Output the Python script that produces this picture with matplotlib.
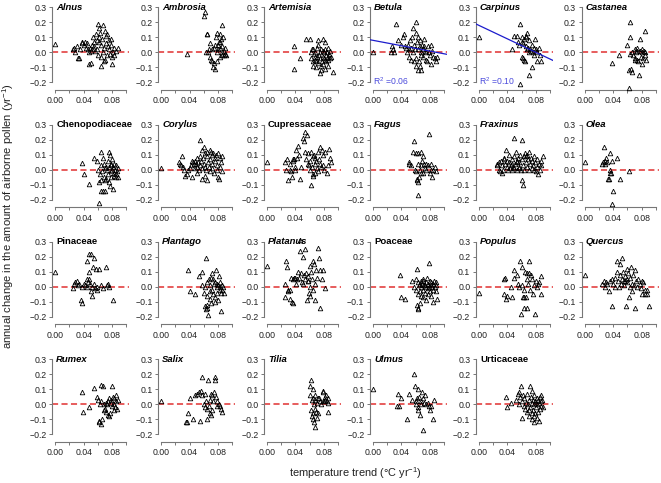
import matplotlib
matplotlib.use('Agg')
import matplotlib.pyplot as plt

plt.rcParams['font.family'] = ['Liberation Sans', 'DejaVu Sans']
plt.rcParams['mathtext.fontset'] = 'custom'
plt.rcParams['mathtext.rm'] = 'Liberation Sans'
plt.rcParams['mathtext.it'] = 'Liberation Sans:italic'
plt.rcParams['mathtext.bf'] = 'Liberation Sans:bold'

# ---------------- data: (temperature trend, annual change) ----------------
alnus = [(0.000,0.055),(0.025,0.02),(0.027,0.03),(0.028,0.0),(0.030,0.04),(0.032,-0.035),(0.033,-0.04),(0.035,0.02),
         (0.037,0.06),(0.038,0.07),(0.040,0.05),(0.042,0.07),(0.043,0.03),(0.045,0.06),(0.046,0.02),(0.047,0.0),
         (0.048,-0.08),(0.049,0.03),(0.050,-0.07),(0.050,0.01),(0.051,0.02),(0.052,0.05),(0.053,0.10),(0.054,0.07),
         (0.055,0.04),(0.056,0.01),(0.057,0.12),(0.058,0.08),(0.059,0.02),(0.060,0.19),(0.060,-0.02),(0.061,0.10),
         (0.062,0.07),(0.062,0.16),(0.063,0.13),(0.064,-0.03),(0.064,0.05),(0.065,-0.09),(0.066,0.09),(0.067,0.18),
         (0.067,0.0),(0.068,-0.06),(0.069,0.03),(0.070,0.14),(0.070,-0.05),(0.071,0.11),(0.072,0.06),(0.073,0.12),
         (0.073,-0.02),(0.074,0.04),(0.075,0.08),(0.076,0.02),(0.077,-0.01),(0.078,0.05),(0.079,0.09),(0.080,-0.08),
         (0.080,-0.03),(0.081,0.0),(0.082,-0.02),(0.083,0.03),(0.085,0.01),(0.088,0.03)]
ambrosia = [(0.037,-0.01),(0.060,0.24),(0.062,0.27),(0.063,0.0),(0.064,0.12),(0.065,0.12),(0.066,0.0),(0.067,0.02),
            (0.068,-0.03),(0.069,0.06),(0.070,-0.05),(0.071,0.02),(0.072,-0.06),(0.073,-0.1),(0.074,0.03),(0.075,0.05),
            (0.076,-0.11),(0.077,0.1),(0.078,0.0),(0.079,0.13),(0.080,0.05),(0.080,0.02),(0.081,0.07),(0.082,0.03),
            (0.082,0.12),(0.083,-0.03),(0.084,0.09),(0.085,0.0),(0.085,0.18),(0.086,0.04),(0.086,-0.02),(0.087,0.1),
            (0.088,0.01),(0.088,-0.02),(0.089,0.03),(0.090,-0.01),(0.091,-0.02),(0.078,-0.06),(0.074,-0.07),(0.083,0.07)]
artemisia = [(0.038,0.045),(0.038,-0.11),(0.047,-0.04),(0.055,0.09),(0.060,0.09),(0.062,0.0),(0.063,0.02),(0.064,-0.06),
             (0.065,-0.09),(0.066,-0.01),(0.067,0.0),(0.068,-0.05),(0.069,-0.1),(0.070,0.03),(0.070,-0.03),(0.071,0.08),
             (0.072,-0.07),(0.073,-0.02),(0.074,0.0),(0.074,-0.14),(0.075,-0.04),(0.076,-0.12),(0.076,0.02),(0.077,-0.06),
             (0.078,0.01),(0.078,-0.03),(0.079,0.09),(0.079,-0.08),(0.080,-0.04),(0.080,0.0),(0.081,0.02),(0.081,-0.11),
             (0.082,-0.05),(0.082,0.07),(0.083,-0.02),(0.083,-0.06),(0.084,0.0),(0.085,-0.03),(0.085,-0.09),(0.086,0.03),
             (0.086,-0.05),(0.087,-0.01),(0.088,-0.04),(0.089,0.01),(0.090,-0.03),(0.092,-0.13),(0.064,0.02),(0.067,-0.03),
             (0.072,0.05),(0.076,-0.09),(0.069,-0.06),(0.062,-0.04)]
betula = [(0.000,0.0),(0.025,0.0),(0.027,0.045),(0.028,0.02),(0.030,0.0),(0.032,0.19),(0.035,0.08),(0.040,0.05),
          (0.042,0.10),(0.044,0.12),(0.045,0.04),(0.046,0.03),(0.048,0.0),(0.049,0.05),(0.050,0.02),(0.050,-0.03),
          (0.052,0.08),(0.053,0.03),(0.054,-0.05),(0.055,0.10),(0.056,0.0),(0.057,0.16),(0.058,0.05),(0.059,0.02),
          (0.060,-0.09),(0.060,0.2),(0.061,0.13),(0.061,-0.04),(0.062,0.07),(0.063,-0.12),(0.064,0.1),(0.064,0.02),
          (0.065,-0.06),(0.066,0.08),(0.066,0.04),(0.067,-0.12),(0.068,0.0),(0.068,-0.02),(0.069,0.05),(0.070,0.02),
          (0.071,-0.03),(0.072,0.04),(0.073,0.01),(0.074,-0.05),(0.075,0.0),(0.076,-0.06),(0.078,0.04),(0.079,0.0),
          (0.080,-0.02),(0.081,-0.08),(0.082,0.05),(0.083,0.01),(0.085,-0.03),(0.087,-0.04),(0.088,-0.06),(0.090,-0.03),
          (0.066,-0.09),(0.058,-0.06),(0.072,0.09)]
carpinus = [(0.000,0.10),(0.047,0.02),(0.050,0.11),(0.053,0.11),(0.055,0.07),(0.057,0.05),(0.058,0.19),(0.058,-0.21),
            (0.060,0.10),(0.061,-0.03),(0.062,0.06),(0.062,-0.04),(0.063,0.09),(0.064,-0.05),(0.065,-0.06),(0.066,0.11),
            (0.066,0.04),(0.067,0.02),(0.068,0.13),(0.069,0.03),(0.070,0.0),(0.070,-0.15),(0.071,0.08),(0.072,0.02),
            (0.073,0.01),(0.074,-0.1),(0.075,0.05),(0.076,0.0),(0.077,0.03),(0.078,-0.02),(0.079,0.09),(0.080,0.02),
            (0.081,-0.06),(0.082,0.0),(0.084,0.03),(0.086,-0.02),(0.087,-0.06),(0.066,0.1),(0.060,0.07)]
castanea = [(0.038,-0.07),(0.048,-0.02),(0.060,0.05),(0.062,-0.12),(0.063,0.1),(0.064,0.2),(0.064,-0.01),(0.065,-0.11),
            (0.066,-0.13),(0.067,0.0),(0.068,-0.02),(0.070,0.02),(0.071,-0.04),(0.072,0.0),(0.073,-0.05),(0.074,0.03),
            (0.075,-0.06),(0.076,-0.15),(0.077,0.01),(0.078,0.09),(0.079,-0.03),(0.080,0.02),(0.080,-0.08),(0.081,0.0),
            (0.082,-0.04),(0.083,0.01),(0.084,-0.02),(0.085,0.14),(0.085,0.0),(0.086,-0.05),(0.062,-0.24),(0.070,-0.05),
            (0.073,0.01)]
chenopodiaceae = [(0.038,0.045),(0.040,-0.03),(0.048,-0.095),(0.055,0.08),(0.058,0.06),(0.060,0.0),(0.061,-0.08),
                  (0.062,-0.22),(0.063,-0.03),(0.064,0.12),(0.064,-0.14),(0.065,0.03),(0.066,-0.01),(0.067,0.08),
                  (0.067,-0.14),(0.068,-0.05),(0.069,0.04),(0.070,-0.14),(0.070,-0.07),(0.071,0.02),(0.072,-0.06),
                  (0.073,0.0),(0.074,0.06),(0.074,-0.03),(0.075,-0.08),(0.076,0.12),(0.076,0.02),(0.077,0.1),
                  (0.077,-0.11),(0.078,0.04),(0.078,-0.01),(0.079,0.03),(0.079,-0.05),(0.080,0.0),(0.080,0.07),
                  (0.081,-0.13),(0.081,0.02),(0.082,-0.04),(0.083,0.04),(0.083,-0.02),(0.084,0.0),(0.085,-0.05),
                  (0.086,0.03),(0.086,-0.03),(0.087,-0.01),(0.088,-0.05),(0.088,0.01),(0.070,0.01),(0.065,-0.07)]
corylus = [(0.000,0.01),(0.025,0.05),(0.027,0.04),(0.028,0.03),(0.030,0.09),(0.031,0.02),(0.032,0.0),(0.034,-0.04),
           (0.036,-0.03),(0.038,0.0),(0.040,0.01),(0.042,0.03),(0.043,-0.05),(0.044,0.06),(0.045,0.05),(0.046,0.04),
           (0.047,0.01),(0.048,0.06),(0.049,0.04),(0.050,0.02),(0.050,-0.02),(0.051,0.08),(0.052,0.05),(0.053,0.0),
           (0.054,0.09),(0.055,0.2),(0.055,0.03),(0.056,0.06),(0.057,0.01),(0.057,-0.06),(0.058,0.13),(0.059,0.08),
           (0.060,0.04),(0.060,0.15),(0.061,0.02),(0.062,0.11),(0.062,-0.04),(0.063,0.0),(0.064,0.09),(0.064,-0.07),
           (0.065,0.12),(0.066,0.05),(0.067,0.02),(0.068,0.13),(0.068,0.07),(0.069,-0.01),(0.070,0.12),(0.071,0.1),
           (0.072,0.04),(0.072,0.01),(0.073,0.11),(0.074,-0.02),(0.075,0.08),(0.076,0.06),(0.077,0.1),(0.078,0.03),
           (0.079,0.0),(0.080,0.11),(0.080,-0.05),(0.081,-0.06),(0.082,0.08),(0.083,0.02),(0.084,0.05),(0.085,-0.01),
           (0.086,0.09)]
cupressaceae = [(0.000,0.05),(0.025,0.05),(0.027,0.0),(0.028,0.07),(0.030,-0.07),(0.032,0.04),(0.033,0.0),(0.034,-0.01),
                (0.035,-0.05),(0.036,0.06),(0.037,0.07),(0.038,0.07),(0.039,0.02),(0.040,0.0),(0.041,0.13),(0.042,0.08),
                (0.043,0.16),(0.045,0.1),(0.047,-0.06),(0.048,0.02),(0.050,0.21),(0.052,0.19),(0.053,0.12),(0.054,0.25),
                (0.055,0.07),(0.056,0.23),(0.057,0.04),(0.058,0.11),(0.059,0.03),(0.060,0.0),(0.061,0.06),(0.062,-0.1),
                (0.062,0.12),(0.063,0.02),(0.064,0.09),(0.065,-0.03),(0.066,0.1),(0.067,0.04),(0.068,0.08),(0.068,-0.02),
                (0.069,0.06),(0.070,0.01),(0.071,0.12),(0.072,-0.01),(0.073,0.07),(0.074,0.04),(0.075,0.15),(0.076,0.02),
                (0.077,0.13),(0.078,0.1),(0.079,0.03),(0.080,0.0),(0.082,0.12),(0.084,-0.02),(0.086,0.03),(0.088,0.08),
                (0.090,0.05),(0.087,0.14),(0.064,-0.04)]
fagus = [(0.050,0.04),(0.051,0.05),(0.053,0.03),(0.056,0.12),(0.058,0.19),(0.059,0.0),(0.060,-0.01),(0.061,0.11),
         (0.062,-0.07),(0.062,-0.06),(0.063,0.04),(0.063,-0.17),(0.064,-0.08),(0.064,0.11),(0.065,-0.05),(0.066,0.0),
         (0.067,0.12),(0.068,0.03),(0.069,0.06),(0.070,-0.02),(0.071,0.09),(0.072,0.04),(0.073,0.01),(0.074,0.0),
         (0.075,0.04),(0.077,0.03),(0.079,0.24),(0.080,-0.02),(0.081,0.04),(0.082,0.0),(0.083,-0.05),(0.085,0.0),
         (0.087,0.02),(0.088,-0.01),(0.068,-0.02)]
fraxinus = [(0.025,0.03),(0.026,0.04),(0.028,0.0),(0.029,0.05),(0.030,-0.01),(0.031,0.06),(0.032,-0.02),(0.033,0.03),
            (0.034,0.0),(0.035,0.07),(0.036,0.08),(0.037,0.04),(0.038,0.13),(0.039,0.02),(0.040,0.06),(0.041,0.0),
            (0.042,0.1),(0.043,0.05),(0.044,0.01),(0.045,0.03),(0.046,0.07),(0.047,0.0),(0.048,0.02),(0.049,0.09),
            (0.050,0.21),(0.050,0.01),(0.051,0.04),(0.052,0.12),(0.053,0.0),(0.054,0.06),(0.055,0.08),(0.056,0.02),
            (0.057,0.05),(0.058,0.1),(0.059,0.0),(0.060,0.2),(0.060,0.07),(0.061,-0.07),(0.062,0.03),(0.062,-0.1),
            (0.063,0.09),(0.064,0.0),(0.065,0.11),(0.066,0.05),(0.067,0.02),(0.068,0.1),(0.069,0.07),(0.070,0.0),
            (0.071,0.12),(0.072,0.04),(0.073,0.08),(0.074,0.01),(0.075,0.06),(0.076,0.03),(0.077,0.09),(0.078,0.0),
            (0.079,0.05),(0.080,-0.01),(0.081,0.02),(0.082,0.07),(0.083,-0.03),(0.084,0.04),(0.086,0.0),(0.088,0.03),
            (0.090,0.09),(0.087,0.06),(0.066,0.09),(0.053,0.05),(0.047,0.04),(0.056,0.01)]
olea = [(0.000,0.05),(0.025,0.04),(0.026,0.05),(0.027,0.15),(0.028,0.06),(0.029,0.04),(0.030,0.08),(0.031,0.05),
        (0.033,-0.06),(0.034,-0.06),(0.035,0.11),(0.036,0.0),(0.037,-0.02),(0.038,0.06),(0.039,-0.23),(0.040,-0.14),
        (0.045,0.08),(0.050,-0.06),(0.062,-0.01),(0.036,-0.02)]
pinaceae = [(0.000,0.10),(0.025,-0.01),(0.026,0.02),(0.028,0.03),(0.030,0.04),(0.032,0.01),(0.034,0.02),(0.036,-0.09),
            (0.038,-0.11),(0.038,0.0),(0.040,0.02),(0.042,0.01),(0.044,0.05),(0.045,0.17),(0.046,0.03),(0.047,0.1),
            (0.048,0.22),(0.049,0.02),(0.050,-0.03),(0.050,0.22),(0.051,0.0),(0.052,-0.06),(0.053,0.13),(0.054,0.19),
            (0.055,0.02),(0.056,-0.01),(0.057,0.12),(0.058,0.0),(0.059,-0.02),(0.062,0.12),(0.064,0.01),(0.067,-0.01),
            (0.072,0.13),(0.073,0.01),(0.074,0.02),(0.076,0.0),(0.081,-0.09),(0.048,0.05),(0.044,0.0)]
plantago = [(0.038,0.11),(0.040,-0.03),(0.047,-0.05),(0.053,0.07),(0.057,0.1),(0.058,0.01),(0.060,-0.04),(0.061,-0.13),
            (0.062,0.0),(0.063,0.19),(0.063,-0.15),(0.064,-0.06),(0.065,0.03),(0.065,-0.14),(0.066,-0.19),(0.067,0.05),
            (0.068,-0.08),(0.069,0.01),(0.070,-0.11),(0.070,0.06),(0.071,-0.02),(0.072,0.09),(0.073,-0.05),(0.074,0.02),
            (0.075,-0.1),(0.076,0.03),(0.076,-0.07),(0.077,0.11),(0.078,0.0),(0.078,-0.04),(0.079,0.02),(0.080,-0.09),
            (0.080,0.01),(0.081,0.07),(0.082,-0.02),(0.082,0.03),(0.083,0.0),(0.084,-0.16),(0.084,-0.04),(0.085,0.01),
            (0.086,-0.02),(0.087,0.0),(0.088,-0.04),(0.065,-0.12),(0.069,-0.03),(0.073,0.05)]
platanus = [(0.000,0.14),(0.025,0.02),(0.026,-0.07),(0.027,0.17),(0.028,0.13),(0.029,-0.02),(0.030,-0.03),(0.032,-0.02),
            (0.033,-0.08),(0.034,0.06),(0.035,-0.1),(0.036,-0.11),(0.037,0.05),(0.038,0.06),(0.040,0.06),(0.041,0.02),
            (0.042,0.05),(0.044,0.1),(0.045,0.06),(0.046,0.31),(0.047,0.24),(0.048,0.09),(0.049,0.03),(0.050,0.02),
            (0.051,0.2),(0.052,0.08),(0.053,0.25),(0.054,0.05),(0.055,0.09),(0.056,-0.09),(0.057,0.04),(0.058,0.07),
            (0.059,-0.04),(0.060,0.14),(0.061,0.0),(0.062,0.1),(0.063,0.05),(0.064,0.17),(0.065,-0.02),(0.066,0.15),
            (0.067,-0.09),(0.068,0.02),(0.069,0.11),(0.070,0.06),(0.072,0.26),(0.073,0.19),(0.074,0.11),(0.075,-0.14),
            (0.077,0.05),(0.079,0.11),(0.082,-0.01),(0.061,-0.06),(0.058,0.04)]
poaceae = [(0.038,0.08),(0.040,-0.07),(0.045,-0.08),(0.055,0.04),(0.058,0.0),(0.060,0.05),(0.061,-0.02),(0.062,0.12),
           (0.062,-0.12),(0.063,-0.14),(0.063,0.03),(0.064,-0.05),(0.064,-0.15),(0.065,0.01),(0.066,-0.03),(0.066,-0.11),
           (0.067,0.04),(0.068,0.0),(0.068,-0.06),(0.069,0.02),(0.070,-0.02),(0.071,0.05),(0.071,-0.07),(0.072,0.01),
           (0.073,-0.04),(0.074,0.03),(0.075,0.0),(0.075,-0.09),(0.076,0.06),(0.077,-0.01),(0.078,0.02),(0.078,-0.05),
           (0.079,0.16),(0.079,0.0),(0.080,0.04),(0.080,-0.03),(0.081,0.01),(0.082,-0.06),(0.082,0.03),(0.083,0.0),
           (0.084,-0.1),(0.084,0.02),(0.085,-0.02),(0.086,0.04),(0.087,0.0),(0.088,-0.03),(0.089,0.01),(0.090,-0.08),
           (0.088,0.03),(0.070,0.04),(0.066,0.02),(0.073,0.01)]
populus = [(0.000,-0.04),(0.035,-0.05),(0.036,0.05),(0.037,0.06),(0.038,-0.08),(0.040,-0.06),(0.045,0.0),(0.047,-0.07),
           (0.049,0.06),(0.050,0.11),(0.053,0.08),(0.055,0.02),(0.057,0.0),(0.058,0.17),(0.059,-0.18),(0.060,0.01),
           (0.061,0.13),(0.062,-0.07),(0.063,-0.14),(0.064,-0.02),(0.065,0.1),(0.066,-0.07),(0.067,0.05),(0.067,-0.14),
           (0.068,0.09),(0.069,0.02),(0.070,0.17),(0.071,0.09),(0.072,-0.02),(0.073,0.08),(0.075,0.05),(0.076,-0.05),
           (0.077,0.01),(0.079,-0.18),(0.080,0.04),(0.081,0.0),(0.083,0.02),(0.085,0.03),(0.087,-0.05),(0.088,0.07),
           (0.063,-0.07)]
quercus = [(0.000,0.08),(0.025,0.02),(0.027,0.04),(0.028,0.0),(0.030,0.03),(0.032,0.02),(0.034,-0.03),(0.036,0.04),
           (0.038,-0.13),(0.039,0.05),(0.040,0.02),(0.042,0.0),(0.043,0.06),(0.045,0.17),(0.046,0.1),(0.047,0.04),
           (0.048,0.0),(0.049,0.15),(0.050,0.08),(0.051,0.02),(0.052,0.19),(0.053,0.05),(0.054,0.1),(0.055,0.01),
           (0.056,0.07),(0.057,0.04),(0.058,-0.13),(0.059,0.12),(0.060,0.03),(0.061,0.09),(0.062,-0.07),(0.063,0.0),
           (0.064,0.06),(0.065,0.13),(0.066,0.02),(0.067,-0.03),(0.068,0.08),(0.069,0.01),(0.070,0.11),(0.071,-0.14),
           (0.072,0.04),(0.073,0.0),(0.075,0.05),(0.077,0.02),(0.079,-0.01),(0.080,0.04),(0.081,-0.05),(0.082,0.03),
           (0.084,-0.02),(0.085,-0.05),(0.087,-0.05),(0.088,-0.02),(0.090,-0.13),(0.060,0.05),(0.055,0.04)]
rumex = [(0.038,0.08),(0.039,-0.05),(0.047,-0.02),(0.055,0.11),(0.059,0.05),(0.060,0.03),(0.061,-0.11),(0.062,-0.12),
         (0.063,0.0),(0.064,0.13),(0.064,-0.13),(0.065,0.02),(0.066,-0.1),(0.067,0.12),(0.068,-0.04),(0.069,0.0),
         (0.070,-0.03),(0.071,0.01),(0.072,-0.05),(0.073,0.0),(0.074,0.02),(0.075,-0.08),(0.076,0.04),(0.077,-0.06),
         (0.078,0.01),(0.079,0.03),(0.080,0.12),(0.080,-0.01),(0.081,0.05),(0.082,0.0),(0.083,0.04),(0.084,-0.02),
         (0.085,0.06),(0.086,0.02),(0.087,-0.03),(0.088,0.03),(0.083,-0.04),(0.074,-0.07)]
salix = [(0.000,0.02),(0.035,-0.12),(0.037,-0.12),(0.038,-0.06),(0.040,0.04),(0.045,-0.1),(0.048,0.06),(0.050,0.07),
         (0.053,0.08),(0.055,-0.11),(0.056,0.09),(0.057,0.18),(0.058,0.06),(0.060,0.0),(0.061,0.07),(0.062,-0.02),
         (0.063,0.02),(0.064,-0.1),(0.065,-0.03),(0.066,0.16),(0.067,-0.01),(0.068,0.03),(0.069,-0.06),(0.070,0.07),
         (0.071,-0.04),(0.072,0.06),(0.073,0.02),(0.074,0.08),(0.075,0.18),(0.076,0.16),(0.077,0.05),(0.078,0.02),
         (0.079,-0.01),(0.081,0.0),(0.083,-0.01),(0.084,-0.03),(0.085,-0.05),(0.070,-0.07)]
tilia = [(0.060,0.12),(0.061,0.06),(0.062,0.16),(0.062,-0.04),(0.063,0.03),(0.063,-0.08),(0.064,0.1),(0.064,-0.1),
         (0.065,0.04),(0.065,-0.06),(0.066,0.0),(0.066,-0.12),(0.067,0.03),(0.067,-0.15),(0.068,-0.03),(0.068,0.06),
         (0.069,-0.05),(0.070,0.01),(0.070,-0.09),(0.071,0.04),(0.072,-0.06),(0.073,0.04),(0.074,0.02),(0.076,0.0),
         (0.078,0.09),(0.079,0.08),(0.080,0.02),(0.081,0.05),(0.082,0.03),(0.083,0.06),(0.084,0.02),(0.085,0.04),
         (0.085,-0.05),(0.086,0.01),(0.078,0.02)]
ulmus = [(0.000,0.1),(0.034,-0.01),(0.035,0.07),(0.037,-0.01),(0.040,0.04),(0.048,-0.1),(0.050,0.07),(0.055,0.03),
         (0.058,0.2),(0.059,0.12),(0.060,0.02),(0.061,0.0),(0.062,0.04),(0.063,-0.02),(0.063,-0.04),(0.064,0.1),
         (0.065,0.05),(0.066,-0.07),(0.067,0.02),(0.068,0.0),(0.069,0.08),(0.070,0.04),(0.071,-0.17),(0.072,0.01),
         (0.073,0.06),(0.075,0.0),(0.077,0.01),(0.079,-0.01),(0.080,-0.04),(0.082,-0.01),(0.085,-0.1),(0.086,0.03)]
urticaceae = [(0.038,0.05),(0.039,-0.02),(0.045,0.01),(0.052,0.03),(0.055,0.07),(0.056,0.08),(0.057,0.0),(0.058,0.05),
              (0.059,0.12),(0.060,-0.09),(0.061,0.02),(0.062,0.06),(0.063,-0.01),(0.064,0.04),(0.065,-0.03),(0.066,0.01),
              (0.067,0.07),(0.068,-0.05),(0.069,0.0),(0.070,0.03),(0.071,-0.08),(0.072,0.12),(0.072,-0.02),(0.073,0.05),
              (0.074,-0.1),(0.074,0.01),(0.075,0.09),(0.076,-0.04),(0.076,0.03),(0.077,-0.12),(0.077,0.0),(0.078,0.06),
              (0.079,-0.06),(0.079,0.02),(0.080,-0.02),(0.081,0.04),(0.081,-0.09),(0.082,0.0),(0.083,-0.05),(0.083,0.03),
              (0.084,-0.11),(0.085,0.01),(0.086,0.05),(0.086,-0.03),(0.087,0.02),(0.088,0.06),(0.088,-0.01),(0.089,0.03),
              (0.090,-0.02),(0.078,-0.08),(0.075,-0.06),(0.070,-0.04)]

taxa = ['Alnus', 'Ambrosia', 'Artemisia', 'Betula', 'Carpinus', 'Castanea',
        'Chenopodiaceae', 'Corylus', 'Cupressaceae', 'Fagus', 'Fraxinus', 'Olea',
        'Pinaceae', 'Plantago', 'Platanus', 'Poaceae', 'Populus', 'Quercus',
        'Rumex', 'Salix', 'Tilia', 'Ulmus', 'Urticaceae']
families = ['Chenopodiaceae', 'Cupressaceae', 'Pinaceae', 'Poaceae', 'Urticaceae']
series = [alnus, ambrosia, artemisia, betula, carpinus, castanea,
          chenopodiaceae, corylus, cupressaceae, fagus, fraxinus, olea,
          pinaceae, plantago, platanus, poaceae, populus, quercus,
          rumex, salix, tilia, ulmus, urticaceae]
# regression fits: intercept, slope, R^2 label
fit_taxa = ['Betula', 'Carpinus']
fit_intercepts = [0.080, 0.18]
fit_slopes = [-0.90, -2.25]
fit_r2 = ['0.06', '0.10']

y_ticks = [-0.2, -0.1, 0.0, 0.1, 0.2, 0.3]
y_ticklabels = ['\u22120.2', '\u22120.1', '0.0', '0.1', '0.2', '0.3']
x_ticks = [0.0, 0.02, 0.04, 0.06, 0.08, 0.10]
x_ticklabels = ['0.00', '', '0.04', '', '0.08', '']

W, H = 661, 483
fig = plt.figure(figsize=(W / 100, H / 100), dpi=100)

axis_col = '#777777'
for i, (name, pts) in enumerate(zip(taxa, series)):
    r, c = divmod(i, 6)
    left = 52.3 + c * 105.9
    top = 4.3 + r * 117.3
    ax = fig.add_axes([left / W, 1 - (top + 81) / H, 77 / W, 81 / H])
    ax.set_xlim(-0.004, 0.104)
    ax.set_ylim(-0.22, 0.32)
    ax.patch.set_alpha(0)
    xs = [p[0] for p in pts]
    ys = [p[1] for p in pts]
    ax.axhline(0, color='#e03030', lw=1.1, ls=(0, (4, 2.2)), zorder=1)
    ax.plot(xs, ys, ls='none', marker='^', ms=3.3, mfc='none', mec='black', mew=0.6,
            zorder=3, clip_on=False)
    if name in fit_taxa:
        k = fit_taxa.index(name)
        ax.axline((0, fit_intercepts[k]), slope=fit_slopes[k], color='#1c1ccc', lw=0.9, zorder=4)
        ax.text(0.0005, -0.19, 'R$^2$ =' + fit_r2[k], color='#4b4bdc', fontsize=6.2,
                ha='left', va='center', zorder=5)
    for s in ['top', 'right']:
        ax.spines[s].set_visible(False)
    ax.spines['left'].set_bounds(-0.2, 0.3)
    ax.spines['bottom'].set_bounds(0.0, 0.10)
    ax.spines['bottom'].set_position(('outward', 3.2))
    for s in ['left', 'bottom']:
        ax.spines[s].set_color(axis_col)
        ax.spines[s].set_linewidth(0.8)
    ax.set_yticks(y_ticks)
    ax.set_yticklabels(y_ticklabels)
    ax.set_xticks(x_ticks)
    ax.set_xticklabels(x_ticklabels)
    ax.tick_params(axis='both', length=2.2, width=0.7, color=axis_col,
                   labelsize=6.3, labelcolor='#222222')
    ax.tick_params(axis='y', pad=1.8)
    ax.tick_params(axis='x', pad=2.6)
    ax.text(0.0016, 0.3, name, fontsize=6.8, fontweight='bold',
            style='normal' if name in families else 'italic',
            ha='left', va='center', zorder=5)

fig.text(8.5 / W, 1 - 216 / H, 'annual change in the amount of airborne pollen (yr$^{-1}$)',
         rotation=90, ha='center', va='center', fontsize=8.1, color='#222222')
fig.text(355 / W, 1 - 473 / H, 'temperature trend (\u00b0C yr$^{-1}$)',
         ha='center', va='center', fontsize=7.9, color='#222222')

fig.savefig('out.png', dpi=100, facecolor='white')
